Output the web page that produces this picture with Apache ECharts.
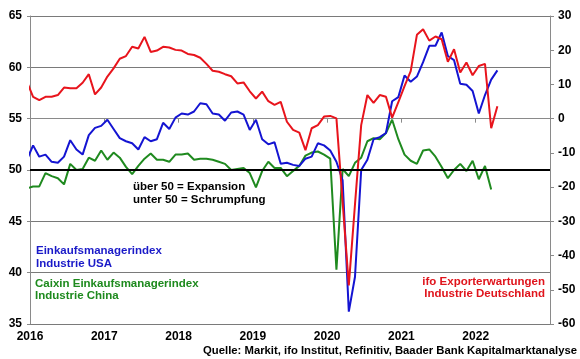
<!DOCTYPE html>
<html>
<head>
<meta charset="utf-8">
<script src="https://cdn.jsdelivr.net/npm/echarts@6/dist/echarts.min.js"></script>
<style>
html,body{margin:0;padding:0;background:#fff;}
#c{width:580px;height:359px;}
</style>
</head>
<body>
<div id="c"></div>
<script>
// Monthly data, first value = Dec 2015, then Jan 2016 onwards
const startYear = 2015, startMonth = 12;
const usaPMI = [51.0,
  52.4, 51.3, 51.5, 50.8, 50.7, 51.3, 52.9, 52.0, 51.5, 53.4, 54.1, 54.3,
  54.9, 54.0, 53.1, 52.8, 52.6, 52.0, 53.2, 52.8, 53.0, 54.6, 54.0, 55.1,
  55.5, 55.4, 55.7, 56.5, 56.4, 55.5, 55.4, 54.8, 55.6, 55.7, 55.4, 53.9,
  54.9, 53.0, 52.5, 52.7, 50.6, 50.7, 50.5, 50.4, 51.1, 51.3, 52.6, 52.4,
  51.9, 50.8, 49.0, 36.2, 39.6, 50.0, 51.0, 53.0, 53.2, 53.6, 56.7, 57.1,
  59.2, 58.6, 59.1, 60.5, 62.1, 62.1, 63.4, 61.1, 60.7, 58.4, 58.3, 57.7,
  55.5, 57.3, 58.8, 59.7];
const chinaPMI = [48.2,
  48.4, 48.4, 49.7, 49.4, 49.2, 48.6, 50.6, 50.0, 50.1, 51.2, 50.9, 51.9,
  51.0, 51.7, 51.2, 50.3, 49.6, 50.4, 51.1, 51.6, 51.0, 51.0, 50.8, 51.5,
  51.5, 51.6, 51.0, 51.1, 51.1, 51.0, 50.8, 50.6, 50.0, 50.1, 50.2, 49.7,
  48.3, 49.9, 50.8, 50.2, 50.2, 49.4, 49.9, 50.4, 51.4, 51.7, 51.8, 51.5,
  51.1, 40.3, 50.1, 49.4, 50.7, 51.2, 52.8, 53.1, 53.0, 53.6, 54.9, 53.0,
  51.5, 50.9, 50.6, 51.9, 52.0, 51.3, 50.3, 49.2, 50.0, 50.6, 49.9, 50.9,
  49.1, 50.4, 48.1];
const ifoExport = [10.8,
  6.4, 5.4, 6.4, 6.4, 6.9, 9.1, 8.9, 8.9, 10.5, 13.0, 7.1, 9.1,
  12.3, 14.7, 17.5, 18.3, 21.0, 20.5, 23.9, 19.5, 19.9, 21.0, 20.8, 20.1,
  19.9, 18.9, 18.6, 17.8, 16.0, 14.0, 13.7, 13.0, 12.4, 10.3, 10.6, 8.0,
  5.9, 7.9, 5.1, 4.0, 4.9, -0.9, -3.3, -4.1, -9.2, -2.8, -1.9, 0.6,
  0.8, 0.1, -24.3, -48.7, -25.0, -1.9, 6.9, 4.6, 6.9, 6.4, 0.3, 4.8,
  9.5, 13.9, 24.5, 26.1, 22.8, 24.0, 23.2, 16.6, 20.3, 13.5, 16.4, 12.7,
  15.4, 16.0, -2.8, 3.6];
const yearTicks = [2016, 2017, 2018, 2019, 2020, 2021, 2022];
const leftTicks = [35, 40, 45, 50, 55, 60, 65];
const rightTicks = [-60, -50, -40, -30, -20, -10, 0, 10, 20, 30];

// month index -> decimal year at mid-month
function monthX(i) {
  const m = (startMonth - 1) + i; // months since Jan of startYear
  return startYear + (m + 0.5) / 12;
}
function toPairs(arr) { return arr.map((v, i) => [monthX(i), v]); }

const FONT = 'Liberation Sans';
const chart = echarts.init(document.getElementById('c'), null, {renderer: 'canvas'});
const axisGray = '#8a8a8a';
const lbl = {color: '#000', fontFamily: FONT, fontWeight: 'bold', fontSize: 12};

function txt(x, y, text, color, align) {
  return {type: 'text', x: x, y: y, silent: true,
    style: {text: text, fill: color, font: 'bold 11.5px "' + FONT + '"',
      textAlign: align || 'left', textVerticalAlign: 'middle'}};
}

chart.setOption({
  animation: false,
  backgroundColor: '#fff',
  grid: {left: 30, right: 30, top: 16, bottom: 35, containLabel: false},
  xAxis: {
    type: 'value', min: yearTicks[0], max: yearTicks[yearTicks.length - 1] + 1, interval: 1,
    axisLine: {show: true, lineStyle: {color: axisGray, width: 1}},
    axisTick: {show: true, length: 4, lineStyle: {color: axisGray}},
    splitLine: {show: false},
    axisLabel: Object.assign({margin: 7, formatter: v => yearTicks.indexOf(v) >= 0 ? String(v) : ''}, lbl)
  },
  yAxis: [{
    type: 'value', min: leftTicks[0], max: leftTicks[leftTicks.length - 1], interval: 5,
    position: 'left',
    axisLine: {show: true, lineStyle: {color: axisGray}},
    axisTick: {show: true, length: 3, lineStyle: {color: axisGray}},
    splitLine: {show: true, lineStyle: {color: '#7a7a7a', width: 1}},
    axisLabel: Object.assign({margin: 8}, lbl)
  }, {
    type: 'value', min: rightTicks[0], max: rightTicks[rightTicks.length - 1], interval: 10,
    position: 'right',
    axisLine: {show: true, lineStyle: {color: axisGray}},
    axisTick: {show: true, length: 4, lineStyle: {color: axisGray}},
    splitLine: {show: false},
    axisLabel: Object.assign({margin: 8}, lbl)
  }],
  series: [{
    name: 'Caixin Einkaufsmanagerindex Industrie China', type: 'line', yAxisIndex: 0,
    data: toPairs(chinaPMI), showSymbol: false, symbol: 'none', clip: true,
    lineStyle: {color: '#1f8a1f', width: 2}, z: 2
  }, {
    name: 'Einkaufsmanagerindex Industrie USA', type: 'line', yAxisIndex: 0,
    data: toPairs(usaPMI), showSymbol: false, symbol: 'none', clip: true,
    lineStyle: {color: '#1414d2', width: 2}, z: 3,
    markLine: {silent: true, symbol: 'none', label: {show: false},
      lineStyle: {color: '#000', width: 2, type: 'solid'},
      data: [{yAxis: 50}]}
  }, {
    name: 'ifo Exporterwartungen Industrie Deutschland', type: 'line', yAxisIndex: 1,
    data: toPairs(ifoExport), showSymbol: false, symbol: 'none', clip: true,
    lineStyle: {color: '#e8141c', width: 2}, z: 4
  }],
  graphic: [
    txt(133, 187, 'über 50 = Expansion', '#000'),
    txt(133, 200, 'unter 50 = Schrumpfung', '#000'),
    txt(36, 251, 'Einkaufsmanagerindex', '#1a1ac8'),
    txt(36, 263.5, 'Industrie USA', '#1a1ac8'),
    txt(35, 284, 'Caixin Einkaufsmanagerindex', '#1e8a1e'),
    txt(35, 296, 'Industrie China', '#1e8a1e'),
    txt(545, 281.5, 'ifo Exporterwartungen', '#e0141c', 'right'),
    txt(545, 293.5, 'Industrie Deutschland', '#e0141c', 'right'),
    {type: 'text', x: 577, y: 351, silent: true,
      style: {text: 'Quelle: Markit, ifo Institut, Refinitiv, Baader Bank Kapitalmarktanalyse',
        fill: '#000', font: 'bold 11.3px "' + FONT + '"', textAlign: 'right', textVerticalAlign: 'middle'}}
  ]
});
</script>
</body>
</html>
